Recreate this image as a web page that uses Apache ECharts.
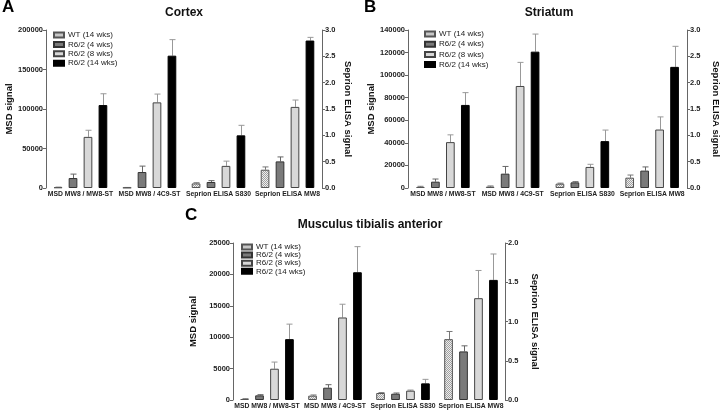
<!DOCTYPE html>
<html>
<head>
<meta charset="utf-8">
<script src="https://cdn.jsdelivr.net/npm/echarts@6/dist/echarts.min.js"></script>
<style>
html,body{margin:0;padding:0;background:#fff;}
#chart{width:722px;height:411px;}
</style>
</head>
<body>
<div id="chart"></div>
<script>
// ---------- DATA ----------
const categories = ['MSD MW8 / MW8-ST', 'MSD MW8 / 4C9-ST', 'Seprion ELISA S830', 'Seprion ELISA MW8'];
const groupNames = ['WT (14 wks)', 'R6/2 (4 wks)', 'R6/2 (8 wks)', 'R6/2 (14 wks)'];
const panelTitles = ['Cortex', 'Striatum', 'Musculus tibialis anterior'];
const panelLetters = ['A', 'B', 'C'];
const leftAxisName = 'MSD signal';
const rightAxisName = 'Seprion ELISA signal';

// rows: WT, 4 wks, 8 wks, 14 wks ; columns: categories (first two MSD axis, last two ELISA axis)
const cortexMean = [
  [800, 500, 0.087, 0.347],
  [12600, 20200, 0.114, 0.505],
  [64700, 108400, 0.42, 1.54],
  [105000, 167500, 1.0, 2.8]
];
const cortexSem = [
  [300, 200, 0.013, 0.053],
  [5000, 7500, 0.026, 0.085],
  [8400, 10500, 0.09, 0.13],
  [14300, 20300, 0.19, 0.06]
];
const striatumMean = [
  [900, 1200, 0.082, 0.196],
  [5600, 12700, 0.107, 0.33],
  [40650, 90400, 0.40, 1.11],
  [73600, 120800, 0.89, 2.30]
];
const striatumSem = [
  [600, 600, 0.01, 0.05],
  [2350, 6400, 0.013, 0.07],
  [6450, 20900, 0.05, 0.24],
  [10900, 15600, 0.21, 0.39]
];
const muscleMean = [
  [160, 690, 0.089, 0.775],
  [740, 1960, 0.08, 0.619],
  [4980, 13140, 0.119, 1.297],
  [9690, 20340, 0.212, 1.53]
];
const muscleSem = [
  [50, 110, 0.005, 0.098],
  [110, 480, 0.009, 0.071],
  [1060, 2110, 0.008, 0.353],
  [2390, 4080, 0.051, 0.33]
];
const leftAxisMax = [200000, 140000, 25000];
const leftAxisStep = [50000, 20000, 5000];
const rightAxisMax = [3.0, 3.0, 2.0];
const rightAxisStep = [0.5, 0.5, 0.5];

// ---------- STYLE ----------
const FONT = '"Liberation Sans", Arial, sans-serif';
const BAR_W = 8.7, GAP = 0.72;
const grids = [
  {left: 46, top: 30, width: 276, height: 158},
  {left: 408, top: 30, width: 281, height: 158},
  {left: 233, top: 243, width: 272, height: 157}
];
const legendPos = [
  {left: 53, top: 30.5, gap: 0.4, lh: 9},
  {left: 424, top: 29.5, gap: 1.2, lh: 9},
  {left: 241, top: 243, gap: 0.1, lh: 7.7}
];
const nameGaps = [[31, 21], [29, 24], [35, 25]];

function makePattern() {
  const c = document.createElement('canvas');
  c.width = 2; c.height = 2;
  const ctx = c.getContext('2d');
  ctx.fillStyle = '#eeeeee'; ctx.fillRect(0, 0, 2, 2);
  ctx.fillStyle = '#a0a0a0'; ctx.fillRect(0, 0, 1, 1); ctx.fillRect(1, 1, 1, 1);
  return c;
}
const pattern = {image: makePattern(), repeat: 'repeat'};
const barStyles = [
  {color: pattern, borderColor: '#555', borderWidth: 1},
  {color: '#7a7a7a', borderColor: '#333', borderWidth: 1},
  {color: '#d8d8d8', borderColor: '#444', borderWidth: 1},
  {color: '#000', borderColor: '#000', borderWidth: 1}
];
const errColors = ['#777', '#666', '#999', '#999'];

const panels = [
  {mean: cortexMean, sem: cortexSem},
  {mean: striatumMean, sem: striatumSem},
  {mean: muscleMean, sem: muscleSem}
];

const xAxes = [], yAxes = [], series = [], legends = [], gridOpts = [], graphics = [];

function errRender(params, api) {
  const cat = api.value(0), k = api.value(1), m = api.value(2), e = api.value(3);
  const p0 = api.coord([cat, m]);
  const p1 = api.coord([cat, e]);
  const x = Math.round(p0[0] + (k - 1.5) * BAR_W * (1 + GAP)) + 0.5;
  const col = errColors[k];
  return {type: 'group', children: [
    {type: 'line', shape: {x1: x, y1: p0[1], x2: x, y2: p1[1]}, style: {stroke: col, lineWidth: 1}},
    {type: 'line', shape: {x1: x - 3, y1: p1[1], x2: x + 3, y2: p1[1]}, style: {stroke: col, lineWidth: 1}}
  ]};
}

panels.forEach((p, g) => {
  gridOpts.push(Object.assign({containLabel: false}, grids[g]));
  const xl = 2 * g, xr = 2 * g + 1;
  xAxes.push({
    type: 'category', gridIndex: g, data: categories,
    axisLine: {show: false}, axisTick: {show: false},
    axisLabel: {fontFamily: FONT, fontSize: 6.8, fontWeight: 'bold', color: '#222', margin: 2.5, interval: 0}
  });
  xAxes.push({type: 'category', gridIndex: g, data: categories, show: false});
  const axisCommon = {
    type: 'value', gridIndex: g, min: 0,
    splitLine: {show: false},
    axisLine: {show: true, lineStyle: {color: '#666', width: 1}},
    axisTick: {show: true, length: 3, lineStyle: {color: '#666'}},
    nameLocation: 'middle',
    nameTextStyle: {fontFamily: FONT, fontSize: 9.5, fontWeight: 'bold', color: '#111'}
  };
  yAxes.push(Object.assign({}, axisCommon, {
    position: 'left', max: leftAxisMax[g], interval: leftAxisStep[g],
    name: leftAxisName, nameRotate: 90, nameGap: nameGaps[g][0],
    axisLabel: {fontFamily: FONT, fontSize: 7.5, fontWeight: 'bold', color: '#222', margin: 3,
      formatter: v => String(v)}
  }));
  yAxes.push(Object.assign({}, axisCommon, {
    position: 'right', max: rightAxisMax[g], interval: rightAxisStep[g],
    name: rightAxisName, nameRotate: -90, nameGap: nameGaps[g][1],
    axisLabel: {fontFamily: FONT, fontSize: 7.5, fontWeight: 'bold', color: '#222', margin: 3,
      formatter: v => v.toFixed(1)}
  }));
  for (let k = 0; k < 4; k++) {
    const common = {type: 'bar', name: groupNames[k], barWidth: BAR_W, barGap: (GAP * 100) + '%',
      itemStyle: barStyles[k], z: 3, silent: true, animation: false};
    series.push(Object.assign({}, common, {xAxisIndex: xl, yAxisIndex: xl,
      data: p.mean[k].map((v, i) => i < 2 ? v : '-')}));
    series.push(Object.assign({}, common, {xAxisIndex: xr, yAxisIndex: xr,
      data: p.mean[k].map((v, i) => i >= 2 ? v : '-')}));
  }
  const errL = [], errR = [];
  for (let k = 0; k < 4; k++) {
    for (let i = 0; i < 4; i++) {
      const item = [i, k, p.mean[k][i], p.mean[k][i] + p.sem[k][i]];
      (i < 2 ? errL : errR).push(item);
    }
  }
  series.push({type: 'custom', name: 'errL' + g, xAxisIndex: xl, yAxisIndex: xl, data: errL,
    renderItem: errRender, z: 2, silent: true, animation: false});
  series.push({type: 'custom', name: 'errR' + g, xAxisIndex: xr, yAxisIndex: xr, data: errR,
    renderItem: errRender, z: 2, silent: true, animation: false});
  const lp = legendPos[g];
  legends.push({
    data: groupNames, orient: 'vertical', left: lp.left, top: lp.top,
    itemWidth: 10, itemHeight: 5, itemGap: lp.gap, padding: 0, icon: 'rect',
    selectedMode: false,
    textStyle: {fontFamily: FONT, fontSize: 8, color: '#222', lineHeight: lp.lh, padding: [0, 0, 0, -1]}
  });
});

const titlePos = [[184, 13], [549, 13], [370, 225]];
const letterPos = [[2, -1], [364, -1], [185, 207]];
for (let g = 0; g < 3; g++) {
  graphics.push({type: 'text', x: titlePos[g][0], y: titlePos[g][1],
    style: {text: panelTitles[g], font: 'bold 12px ' + FONT, fill: '#111', textAlign: 'center', textVerticalAlign: 'middle'}});
  graphics.push({type: 'text', x: letterPos[g][0], y: letterPos[g][1],
    style: {text: panelLetters[g], font: 'bold 17px ' + FONT, fill: '#000', textAlign: 'left', textVerticalAlign: 'top'}});
}

const chart = echarts.init(document.getElementById('chart'), null, {renderer: 'canvas'});
chart.setOption({
  animation: false,
  backgroundColor: '#fff',
  grid: gridOpts,
  xAxis: xAxes,
  yAxis: yAxes,
  legend: legends,
  series: series,
  graphic: graphics
});
</script>
</body>
</html>
